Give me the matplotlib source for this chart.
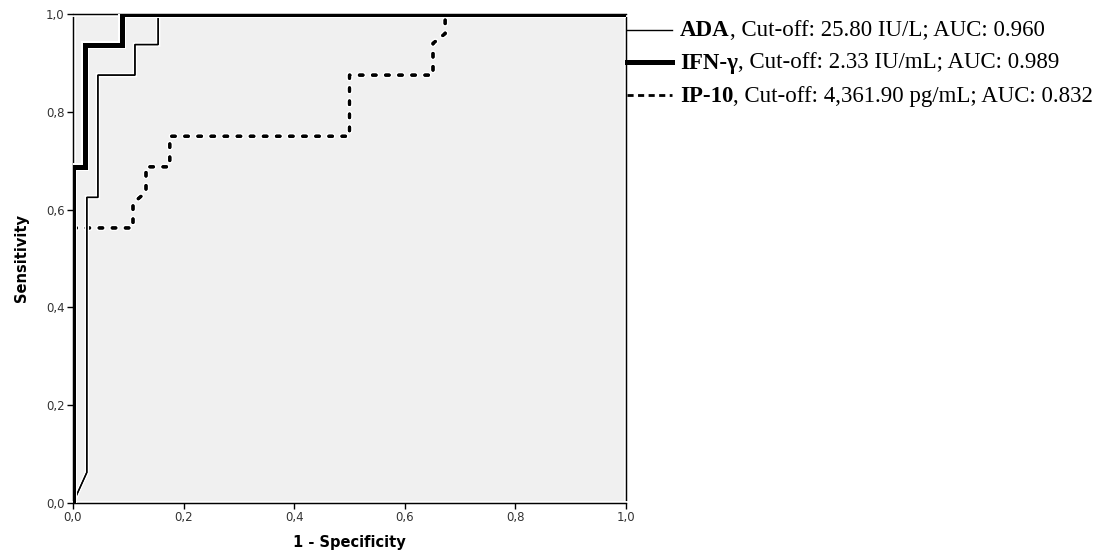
import matplotlib
matplotlib.use("Agg")
import matplotlib.pyplot as plt
import matplotlib.patheffects as pe
from matplotlib.lines import Line2D

# ---- data ----
ada_fpr = [0.0, 0.025, 0.025, 0.045, 0.045, 0.112, 0.112, 0.154, 0.154, 1.0]
ada_tpr = [0.0, 0.0625, 0.625, 0.625, 0.875, 0.875, 0.9375, 0.9375, 1.0, 1.0]

ifn_fpr = [0.0, 0.0, 0.022, 0.022, 0.089, 0.089, 1.0]
ifn_tpr = [0.0, 0.6875, 0.6875, 0.9375, 0.9375, 1.0, 1.0]

ip10_fpr = [0.0, 0.0, 0.1085, 0.1085, 0.132, 0.132, 0.175, 0.175, 0.5, 0.5,
            0.651, 0.651, 0.673, 0.673, 1.0]
ip10_tpr = [0.0, 0.5625, 0.5625, 0.613, 0.636, 0.6875, 0.6875, 0.75, 0.75,
            0.875, 0.875, 0.94, 0.96, 1.0, 1.0]

legend_bold = ["ADA", "IFN-\u03b3", "IP-10"]
legend_rest = [", Cut-off: 25.80 IU/L; AUC: 0.960",
               ", Cut-off: 2.33 IU/mL; AUC: 0.989",
               ", Cut-off: 4,361.90 pg/mL; AUC: 0.832"]

ticks = [0.0, 0.2, 0.4, 0.6, 0.8, 1.0]
tick_labels = ["0,0", "0,2", "0,4", "0,6", "0,8", "1,0"]

W, H = 1119, 558
fig = plt.figure(figsize=(W / 100, H / 100), dpi=100)
ax = fig.add_axes([73 / W, 1 - 503 / H, (626 - 73) / W, (503 - 14) / H])
ax.set_facecolor("#f0f0f0")
ax.set_xlim(0, 1)
ax.set_ylim(0, 1)

for s in ax.spines.values():
    s.set_linewidth(0.9)
    s.set_color("black")
    s.set_path_effects([pe.withStroke(linewidth=3.5, foreground="white"), pe.Normal()])
    s.set_zorder(1.5)

styles = [
    dict(lw=1.0, ls="-"),
    dict(lw=3.6, ls="-"),
    dict(lw=2.3, ls=(0, (1.1, 3.0))),
]
series = [(ada_fpr, ada_tpr), (ifn_fpr, ifn_tpr), (ip10_fpr, ip10_tpr)]
order = [2, 0, 1]  # IP-10 bottom, then ADA, IFN-γ on top
for z, i in enumerate(order):
    x, y = series[i]
    st = styles[i]
    ln, = ax.plot(x, y, color="black", lw=st["lw"], linestyle=st["ls"],
                  solid_joinstyle="miter", dash_capstyle="round", zorder=3 + z)
    ln.set_path_effects([pe.withStroke(linewidth=st["lw"] + 2.2, foreground="white"),
                         pe.Normal()])

ax.set_xticks(ticks)
ax.set_xticklabels(tick_labels)
ax.set_yticks(ticks)
ax.set_yticklabels(tick_labels)
ax.tick_params(direction="out", length=4.5, width=1.0, color="black",
               labelsize=8.5, labelcolor="#333333", pad=1.5)
for t in ax.get_xticklabels() + ax.get_yticklabels():
    t.set_fontfamily("DejaVu Sans")

ax.set_xlabel("1 - Specificity", fontsize=10.5, fontweight="bold",
              family="DejaVu Sans", labelpad=8)
ax.set_ylabel("Sensitivity", fontsize=10.5, fontweight="bold",
              family="DejaVu Sans", labelpad=12)

# ---- legend, placed to the right of the plot area ----
row_y = [31, 63, 96]
for i in range(3):
    yf = 1 - row_y[i] / H
    st = styles[i]
    fig.add_artist(Line2D([627 / W, 672 / W], [1 - (row_y[i] - 1) / H] * 2, color="black",
                          lw=st["lw"] if i != 2 else 2.0,
                          linestyle="-" if i != 2 else (0, (2.2, 1.6)),
                          transform=fig.transFigure))
    t = fig.text(680 / W, yf, legend_bold[i], fontsize=16.5, fontweight="bold",
                 family="Liberation Serif", va="center", ha="left")
    ax.annotate(legend_rest[i], xy=(1, 0), xycoords=t, va="bottom", ha="left",
                fontsize=16.5, family="Liberation Serif", annotation_clip=False)

fig.savefig("out.png", dpi=100)
